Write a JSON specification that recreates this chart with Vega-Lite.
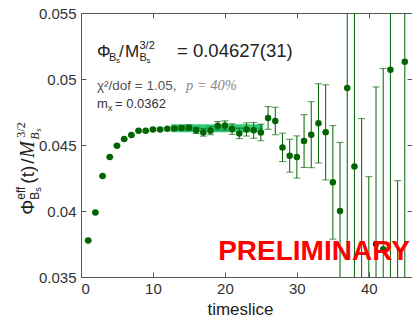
{
  "$schema": "https://vega.github.io/schema/vega-lite/v6.json",
  "width": 331,
  "height": 264,
  "autosize": {"type": "none"},
  "padding": {"left": 81, "top": 13, "right": 0, "bottom": 44},
  "background": "#ffffff",
  "config": {
    "view": {"stroke": "#555555", "strokeWidth": 1},
    "axis": {
      "grid": false,
      "domainColor": "#555555",
      "tickColor": "#555555",
      "labelFont": "Liberation Sans",
      "labelFontSize": 15,
      "labelColor": "#333333",
      "titleFont": "Liberation Sans",
      "titleFontWeight": "normal",
      "titleColor": "#222222"
    }
  },
  "data": {
    "values": [
      {"t": 1, "v": 0.03777, "e": 0.00003},
      {"t": 2, "v": 0.03989, "e": 0.00003},
      {"t": 3, "v": 0.04265, "e": 0.00003},
      {"t": 4, "v": 0.04409, "e": 0.00004},
      {"t": 5, "v": 0.04495, "e": 0.00004},
      {"t": 6, "v": 0.04545, "e": 0.00005},
      {"t": 7, "v": 0.04576, "e": 0.00005},
      {"t": 8, "v": 0.04608, "e": 0.00006},
      {"t": 9, "v": 0.04608, "e": 0.00007},
      {"t": 10, "v": 0.04618, "e": 0.00008},
      {"t": 11, "v": 0.04618, "e": 0.00009},
      {"t": 12, "v": 0.04623, "e": 0.00011},
      {"t": 13, "v": 0.04626, "e": 0.00013},
      {"t": 14, "v": 0.04629, "e": 0.00016},
      {"t": 15, "v": 0.04631, "e": 0.0002},
      {"t": 16, "v": 0.04611, "e": 0.00024},
      {"t": 17, "v": 0.04595, "e": 0.00028},
      {"t": 18, "v": 0.04608, "e": 0.0003},
      {"t": 19, "v": 0.04646, "e": 0.00032},
      {"t": 20, "v": 0.04648, "e": 0.00035},
      {"t": 21, "v": 0.04621, "e": 0.0004},
      {"t": 22, "v": 0.04588, "e": 0.0004},
      {"t": 23, "v": 0.04618, "e": 0.0005},
      {"t": 24, "v": 0.04611, "e": 0.0006},
      {"t": 25, "v": 0.04595, "e": 0.00063},
      {"t": 26, "v": 0.04705, "e": 0.00086},
      {"t": 27, "v": 0.04682, "e": 0.00104},
      {"t": 28, "v": 0.04482, "e": 0.00108},
      {"t": 29, "v": 0.04419, "e": 0.00125},
      {"t": 30, "v": 0.04409, "e": 0.0016},
      {"t": 31, "v": 0.0453, "e": 0.002},
      {"t": 32, "v": 0.04578, "e": 0.0025},
      {"t": 33, "v": 0.04664, "e": 0.003},
      {"t": 34, "v": 0.04596, "e": 0.0036},
      {"t": 35, "v": 0.04217, "e": 0.0043},
      {"t": 36, "v": 0.04, "e": 0.0052},
      {"t": 37, "v": 0.04932, "e": 0.0128},
      {"t": 38, "v": 0.04338, "e": 0.0125},
      {"t": 39, "v": 0.0345, "e": 0.0125},
      {"t": 40, "v": 0.033, "e": 0.0096},
      {"t": 41, "v": 0.0375, "e": 0.0119},
      {"t": 42, "v": 0.0371, "e": 0.0137},
      {"t": 43, "v": 0.0507, "e": 0.018},
      {"t": 44, "v": 0.0335, "e": 0.0088},
      {"t": 45, "v": 0.05131, "e": 0.019}
    ]
  },
  "layer": [
    {
      "data": {"values": [{}]},
      "mark": {"type": "rect", "color": "#1fc46c", "opacity": 0.9},
      "encoding": {
        "x": {"datum": 12.5, "type": "quantitative", "scale": {"domain": [0, 46], "nice": false, "zero": false},
              "axis": {"orient": "top", "labels": false, "domain": false, "tickSize": -5, "values": [0, 10, 20, 30, 40], "title": null}},
        "x2": {"datum": 25.3},
        "y": {"datum": 0.04596, "type": "quantitative", "scale": {"domain": [0.035, 0.055], "nice": false, "zero": false},
              "axis": {"orient": "right", "labels": false, "domain": false, "tickSize": -5, "values": [0.035, 0.04, 0.045, 0.05, 0.055], "title": null}},
        "y2": {"datum": 0.04658}
      }
    },
    {
      "data": {"values": [{}]},
      "mark": {"type": "rule", "color": "#0fa85a", "strokeWidth": 1},
      "encoding": {
        "x": {"datum": 12.5, "axis": null},
        "x2": {"datum": 25.3},
        "y": {"datum": 0.04627, "axis": null}
      }
    },
    {
      "mark": {"type": "errorbar", "color": "#006400", "clip": true, "thickness": 1, "ticks": {"size": 7, "thickness": 1}},
      "encoding": {
        "x": {"field": "t", "type": "quantitative", "axis": null},
        "y": {"field": "v", "type": "quantitative", "axis": null},
        "yError": {"field": "e"}
      }
    },
    {
      "mark": {"type": "point", "filled": true, "shape": "circle", "size": 42, "color": "#006400", "opacity": 1, "clip": true},
      "encoding": {
        "x": {"field": "t", "type": "quantitative",
              "axis": {"values": [0, 10, 20, 30, 40], "tickSize": -5, "labelPadding": 9, "title": "timeslice", "titleFontSize": 17, "titlePadding": 5, "titleX": 159}},
        "y": {"field": "v", "type": "quantitative",
              "axis": {"values": [0.035, 0.04, 0.045, 0.05, 0.055], "format": "~g", "tickSize": -5, "labelPadding": 10, "title": null}}
      }
    },
    {
      "data": {"values": [{}]},
      "encoding": {"x": {"datum": -6.6, "axis": null}, "y": {"datum": 0.03972, "axis": null}},
      "layer": [
        {"mark": {"type": "text", "text": "Φ", "angle": 270, "align": "left", "baseline": "alphabetic", "font": "Liberation Sans", "fontSize": 19, "color": "#222222"}},
        {"mark": {"type": "text", "text": "eff", "angle": 270, "align": "left", "baseline": "alphabetic", "font": "Liberation Sans", "fontSize": 12, "dx": 15, "dy": -9, "color": "#222222"}},
        {"mark": {"type": "text", "text": "B", "angle": 270, "align": "left", "baseline": "alphabetic", "font": "Liberation Sans", "fontSize": 12, "dx": 15, "dy": 5, "color": "#222222"}},
        {"mark": {"type": "text", "text": "s", "angle": 270, "align": "left", "baseline": "alphabetic", "font": "Liberation Sans", "fontSize": 9, "dx": 23, "dy": 7, "color": "#222222"}},
        {"mark": {"type": "text", "text": "(t)", "angle": 270, "align": "left", "baseline": "alphabetic", "font": "Liberation Sans", "fontSize": 19, "dx": 31, "color": "#222222"}},
        {"mark": {"type": "text", "text": "/", "angle": 270, "align": "left", "baseline": "alphabetic", "font": "Liberation Sans", "fontSize": 19, "dx": 51, "color": "#222222"}},
        {"mark": {"type": "text", "text": "M", "angle": 270, "align": "left", "baseline": "alphabetic", "font": "Liberation Serif", "fontStyle": "italic", "fontSize": 20, "dx": 57, "color": "#222222"}},
        {"mark": {"type": "text", "text": "3/2", "angle": 270, "align": "left", "baseline": "alphabetic", "font": "Liberation Serif", "fontSize": 12, "dx": 77, "dy": -9, "color": "#222222"}},
        {"mark": {"type": "text", "text": "B", "angle": 270, "align": "left", "baseline": "alphabetic", "font": "Liberation Serif", "fontStyle": "italic", "fontSize": 12, "dx": 75, "dy": 5, "color": "#222222"}},
        {"mark": {"type": "text", "text": "s", "angle": 270, "align": "left", "baseline": "alphabetic", "font": "Liberation Serif", "fontStyle": "italic", "fontSize": 9, "dx": 83, "dy": 7, "color": "#222222"}}
      ]
    },
    {
      "data": {"values": [{}]},
      "encoding": {"x": {"datum": 2.22, "axis": null}, "y": {"datum": 0.05169, "axis": null}},
      "layer": [
        {"mark": {"type": "text", "text": "Φ", "align": "left", "baseline": "alphabetic", "font": "Liberation Sans", "fontSize": 17, "color": "#222222"}},
        {"mark": {"type": "text", "text": "B", "align": "left", "baseline": "alphabetic", "font": "Liberation Sans", "fontSize": 11, "dx": 12, "dy": 4, "color": "#222222"}},
        {"mark": {"type": "text", "text": "s", "align": "left", "baseline": "alphabetic", "font": "Liberation Sans", "fontSize": 8, "dx": 19, "dy": 6, "color": "#222222"}},
        {"mark": {"type": "text", "text": "/", "align": "left", "baseline": "alphabetic", "font": "Liberation Sans", "fontSize": 17, "dx": 22, "color": "#222222"}},
        {"mark": {"type": "text", "text": "M", "align": "left", "baseline": "alphabetic", "font": "Liberation Sans", "fontSize": 17, "dx": 28, "color": "#222222"}},
        {"mark": {"type": "text", "text": "3/2", "align": "left", "baseline": "alphabetic", "font": "Liberation Sans", "fontSize": 11, "dx": 42.5, "dy": -8, "color": "#222222"}},
        {"mark": {"type": "text", "text": "B", "align": "left", "baseline": "alphabetic", "font": "Liberation Sans", "fontSize": 11, "dx": 42.5, "dy": 4, "color": "#222222"}},
        {"mark": {"type": "text", "text": "s", "align": "left", "baseline": "alphabetic", "font": "Liberation Sans", "fontSize": 8, "dx": 49.5, "dy": 6, "color": "#222222"}},
        {"mark": {"type": "text", "text": "= 0.04627(31)", "align": "left", "baseline": "alphabetic", "font": "Liberation Sans", "fontSize": 18.5, "dx": 80, "color": "#222222"}}
      ]
    },
    {
      "data": {"values": [{}]},
      "encoding": {"x": {"datum": 2.22, "axis": null}, "y": {"datum": 0.049167, "axis": null}},
      "layer": [
        {"mark": {"type": "text", "text": "χ²/dof = 1.05,", "align": "left", "baseline": "alphabetic", "font": "Liberation Sans", "fontSize": 13.5, "color": "#555555"}},
        {"mark": {"type": "text", "text": "p = 40%", "align": "left", "baseline": "alphabetic", "font": "Liberation Serif", "fontStyle": "italic", "fontSize": 14.5, "dx": 89, "color": "#888888"}}
      ]
    },
    {
      "data": {"values": [{}]},
      "encoding": {"x": {"datum": 2.22, "axis": null}, "y": {"datum": 0.04778, "axis": null}},
      "layer": [
        {"mark": {"type": "text", "text": "m", "align": "left", "baseline": "alphabetic", "font": "Liberation Sans", "fontSize": 13, "color": "#333333"}},
        {"mark": {"type": "text", "text": "x", "align": "left", "baseline": "alphabetic", "font": "Liberation Sans", "fontSize": 9, "dx": 11, "dy": 3, "color": "#333333"}},
        {"mark": {"type": "text", "text": "= 0.0362", "align": "left", "baseline": "alphabetic", "font": "Liberation Sans", "fontSize": 13, "dx": 18, "color": "#333333"}}
      ]
    },
    {
      "data": {"values": [{}]},
      "mark": {"type": "text", "text": "PRELIMINARY", "align": "right", "baseline": "alphabetic", "font": "Liberation Sans", "fontWeight": "bold", "fontSize": 28, "color": "#ff0000"},
      "encoding": {"x": {"datum": 45.72, "axis": null}, "y": {"datum": 0.03629, "axis": null}}
    }
  ],
  "resolve": {"axis": {"x": "independent", "y": "independent"}}
}
